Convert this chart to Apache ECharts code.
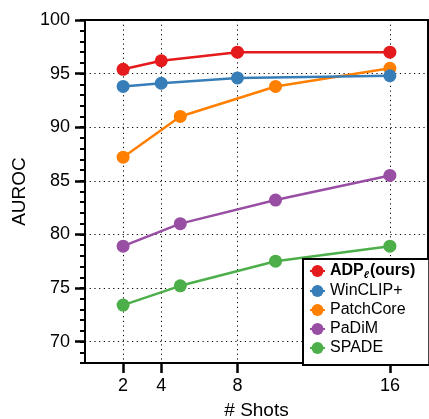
<!DOCTYPE html>
<html><head><meta charset="utf-8">
<script src="https://cdn.jsdelivr.net/npm/echarts@6/dist/echarts.min.js"></script>
<style>html,body{margin:0;padding:0;background:#fff}#c{width:429px;height:419px}</style>
</head><body><div id="c"></div>
<script>
const xTicks = [2, 4, 8, 16];
const yTicks = [70, 75, 80, 85, 90, 95, 100];
const names = ['ADPℓ(ours)', 'WinCLIP+', 'PatchCore', 'PaDiM', 'SPADE'];
const colors = ['#e41a1c', '#377eb8', '#ff7f00', '#984ea3', '#4daf4a'];
const shotsA = [2, 4, 8, 16];
const shotsB = [2, 5, 10, 16];
const adp = [95.4, 96.2, 97.0, 97.0];
const winclip = [93.8, 94.1, 94.6, 94.8];
const patchcore = [87.2, 91.0, 93.8, 95.5];
const padim = [78.9, 81.0, 83.2, 85.5];
const spade = [73.4, 75.2, 77.5, 78.9];

const seriesDefs = [
  [names[0], shotsA, adp, colors[0]],
  [names[1], shotsA, winclip, colors[1]],
  [names[2], shotsB, patchcore, colors[2]],
  [names[3], shotsB, padim, colors[3]],
  [names[4], shotsB, spade, colors[4]]
];
const FONT = '"Liberation Sans", Arial, Helvetica, sans-serif';
const dotted = { color: '#000', width: 1, type: [1.2, 3.5] };

const series = seriesDefs.slice().reverse().map(([n, xs, ys, c]) => ({
  name: n, type: 'line',
  data: xs.map((x, i) => [x, ys[i]]),
  symbol: 'circle', symbolSize: 13,
  lineStyle: { color: c, width: 2.5 },
  itemStyle: { color: c },
  emphasis: { disabled: true },
  animation: false
}));

const chart = echarts.init(document.getElementById('c'), null, { renderer: 'canvas' });
chart.setOption({
  animation: false,
  grid: { left: 85, top: 20, width: 343, height: 343, outerBoundsMode: 'none', containLabel: false, show: true, borderColor: '#000', borderWidth: 2, backgroundColor: 'transparent' },
  xAxis: {
    type: 'value', min: 0, max: 18,
    name: '# Shots', nameLocation: 'middle', nameGap: 38,
    nameTextStyle: { fontFamily: FONT, fontSize: 19, color: '#000' },
    axisLine: { lineStyle: { color: '#000', width: 2 } },
    axisTick: { customValues: xTicks, length: 10, lineStyle: { color: '#000', width: 2.5 } },
    axisLabel: { customValues: xTicks, margin: 14, fontFamily: FONT, fontSize: 18, color: '#000' },
    splitLine: { show: true, lineStyle: dotted }
  },
  yAxis: [{
    type: 'value', min: 68, max: 100, position: 'left',
    name: 'AUROC', nameLocation: 'middle', nameGap: 54,
    nameTextStyle: { fontFamily: FONT, fontSize: 19, color: '#000' },
    axisLine: { lineStyle: { color: '#000', width: 2 } },
    axisTick: { customValues: yTicks, length: 10, lineStyle: { color: '#000', width: 2.5 } },
    axisLabel: { customValues: yTicks, margin: 15, fontFamily: FONT, fontSize: 18, color: '#000' },
    splitLine: { show: true, lineStyle: dotted }
  }, {
    type: 'value', min: 68, max: 100, interval: 1, position: 'right', offset: -343,
    axisLine: { show: false },
    axisTick: { show: true, inside: true, length: 5, lineStyle: { color: '#000', width: 2 } },
    axisLabel: { show: false },
    splitLine: { show: false }
  }],
  legend: {
    data: names, orient: 'vertical', left: 303, top: 259,
    backgroundColor: '#fff', borderColor: '#000', borderWidth: 2,
    padding: [4, 14, 9, 6], itemWidth: 15, itemHeight: 15, itemGap: 3, itemTextGap: 17,
    textStyle: {
      fontFamily: FONT, fontSize: 16, color: '#000',
      rich: {
        b: { fontFamily: FONT, fontSize: 16, fontWeight: 'bold', color: '#000' },
        s: { fontFamily: FONT, fontSize: 10, fontStyle: 'italic', fontWeight: 'bold', color: '#000', padding: [8, 1, 0, 0] }
      }
    },
    formatter: n => n === names[0] ? '{b|ADP}{s|ℓ}{b|(ours)}' : n
  },
  series: series
});
</script></body></html>
